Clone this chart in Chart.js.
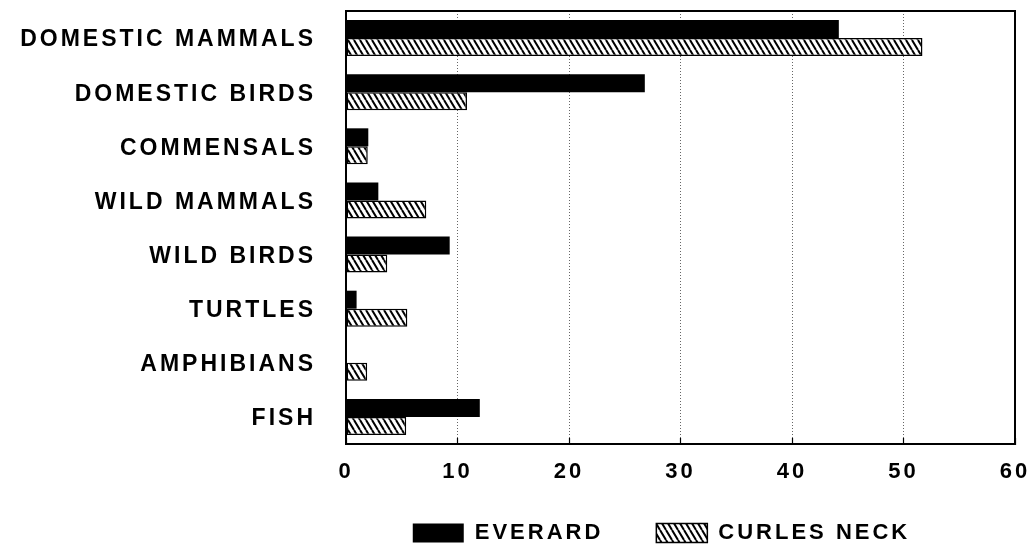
<!DOCTYPE html>
<html><head><meta charset="utf-8">
<script src="https://cdn.jsdelivr.net/npm/chart.js@4/dist/chart.umd.min.js"></script>
<style>html,body{margin:0;padding:0;background:#fff}</style>
</head><body>
<canvas id="c" width="1034" height="551"></canvas>
<script>
const categories = ['DOMESTIC MAMMALS','DOMESTIC BIRDS','COMMENSALS','WILD MAMMALS','WILD BIRDS','TURTLES','AMPHIBIANS','FISH'];
const everard = [44.2, 26.8, 2.0, 2.9, 9.3, 0.95, 0, 12.0];
const curlesNeck = [51.7, 10.85, 1.95, 7.2, 3.7, 5.5, 1.9, 5.4];
const seriesNames = ['EVERARD', 'CURLES NECK'];
const xMin = 0, xMax = 60, xStep = 10;

const canvas = document.getElementById('c');
const ctx = canvas.getContext('2d');

function makeHatch() {
  const t = document.createElement('canvas');
  t.width = 6; t.height = 10;
  const g = t.getContext('2d');
  g.fillStyle = '#fff'; g.fillRect(0, 0, 6, 10);
  g.strokeStyle = '#000'; g.lineWidth = 2;
  g.beginPath();
  for (const k of [-6, 0, 6]) { g.moveTo(k, 0); g.lineTo(k + 6, 10); }
  g.stroke();
  return ctx.createPattern(t, 'repeat');
}
const hatch = makeHatch();
const FONT = "'Liberation Sans', Arial, Helvetica, sans-serif";

const spacingPlugin = {
  id: 'spacing',
  beforeUpdate(chart) { chart.ctx.letterSpacing = '3px'; },
  beforeDraw(chart) { chart.ctx.letterSpacing = '3px'; },
  afterDraw(chart) {
    const a = chart.chartArea, c = chart.ctx;
    c.save();
    c.setLineDash([]);
    c.strokeStyle = '#000'; c.lineWidth = 2;
    c.strokeRect(a.left, a.top, a.right - a.left, a.bottom - a.top);
    c.restore();
  }
};
const legendShift = {
  id: 'legendShift',
  afterLayout(chart) {
    const l = chart.legend; const dx = -19, dy = -25;
    l.left += dx; l.right += dx;
    l.top += dy; l.bottom += dy;
  }
};

new Chart(ctx, {
  type: 'bar',
  data: {
    labels: categories,
    datasets: [
      { label: seriesNames[0], data: everard, backgroundColor: '#000', borderWidth: 0,
        categoryPercentage: 0.665, barPercentage: 1.0 },
      { label: seriesNames[1], data: curlesNeck, backgroundColor: hatch, borderColor: '#000', borderWidth: 1.5, borderSkipped: false,
        categoryPercentage: 0.665, barPercentage: 1.0 }
    ]
  },
  options: {
    indexAxis: 'y',
    responsive: false,
    devicePixelRatio: 1,
    animation: false,
    layout: { autoPadding: false, padding: { top: 11, right: 19, bottom: -28, left: 0 } },
    plugins: {
      tooltip: { enabled: false },
      legend: {
        position: 'bottom',
        fullSize: false,
        labels: {
          boxWidth: 51, boxHeight: 19, padding: 53,
          color: '#000',
          font: { family: FONT, size: 22, weight: 'bold' }
        }
      }
    },
    scales: {
      x: {
        min: xMin, max: xMax,
        ticks: { stepSize: xStep, color: '#000', padding: 21, font: { family: FONT, size: 22, weight: 'bold' } },
        grid: { color: '#666', lineWidth: 1, drawTicks: true, tickLength: -6,
                tickColor: '#000', tickBorderDash: [], tickWidth: 1.2 },
        border: { display: true, color: '#000', width: 2, dash: [1, 2] },
        afterFit(s) { s.height = 50; s.paddingLeft = 0; s.paddingRight = 0; }
      },
      y: {
        ticks: { color: '#000', padding: 30, labelOffset: 2, font: { family: FONT, size: 23, weight: 'bold' } },
        grid: { display: false, drawTicks: false },
        border: { display: true, color: '#000', width: 2 },
        afterFit(s) { s.width = 346; s.paddingTop = 0; s.paddingBottom = 0; }
      }
    }
  },
  plugins: [spacingPlugin, legendShift]
});
</script>
</body></html>
